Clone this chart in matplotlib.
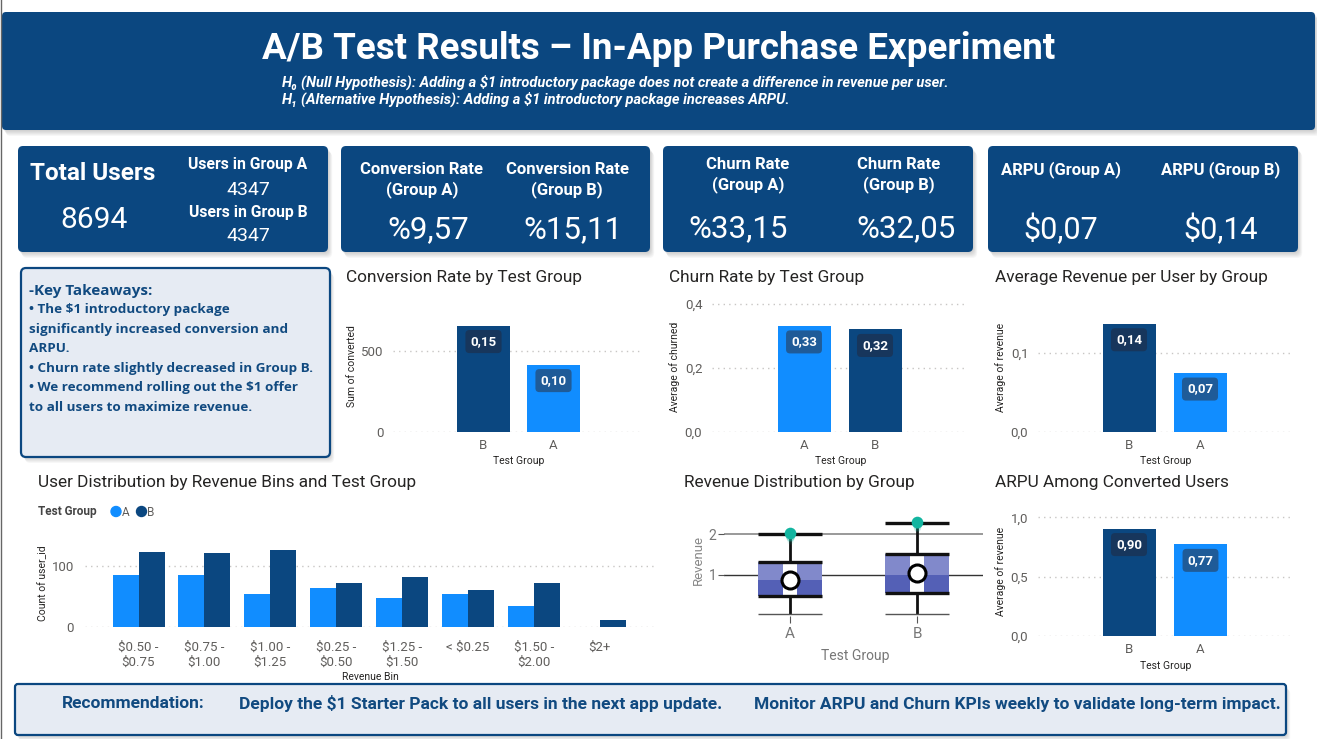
import numpy as np
import matplotlib
matplotlib.use('Agg')
import matplotlib.pyplot as plt
from matplotlib.patches import FancyBboxPatch, Circle
from matplotlib.transforms import IdentityTransform

# ---- data ----
total_users = 8694
users_per_group = [4347, 4347]          # A, B
conv_rate_pct = [9.57, 15.11]           # A, B
churn_rate_pct = [33.15, 32.05]         # A, B
arpu_group = [0.07, 0.14]               # A, B

conv_groups = ['B', 'A']
conv_sum = [657, 416]
conv_labels = ['0,15', '0,10']

churn_groups = ['A', 'B']
churn_avg = [0.3315, 0.3205]
churn_labels = ['0,33', '0,32']

arpu_groups = ['B', 'A']
arpu_avg = [0.137, 0.0746]
arpu_labels = ['0,14', '0,07']

bins = ['\\$0.50 -\n\\$0.75', '\\$0.75 -\n\\$1.00', '\\$1.00 -\n\\$1.25', '\\$0.25 -\n\\$0.50',
        '\\$1.25 -\n\\$1.50', '< \\$0.25', '\\$1.50 -\n\\$2.00', '\\$2+']
bin_count_a = [84, 84, 53, 64, 48, 54, 34, 0]
bin_count_b = [122, 120, 126, 71, 82, 60, 71, 11]

box_groups = ['A', 'B']
box_q1 = [0.48, 0.56]
box_med = [0.87, 1.00]
box_q3 = [1.31, 1.51]
box_mean = [0.89, 1.06]
box_lo = [0.04, 0.04]
box_hi = [2.00, 2.28]
box_out = [[2.02, 1.96, 1.90, 1.84], [2.30, 2.24, 2.18, 2.12]]

conv_arpu_groups = ['B', 'A']
conv_arpu = [0.905, 0.772]
conv_arpu_labels = ['0,90', '0,77']

takeaways = ['• The \\$1 introductory package', 'significantly increased conversion and', 'ARPU.',
             '• Churn rate slightly decreased in Group B.', '• We recommend rolling out the \\$1 offer',
             'to all users to maximize revenue.']

# ---- style ----
NAVY = '#0B4780'
LIGHT = '#118DFF'
DIN = ['Roboto', 'DejaVu Sans']
SEG = ['Open Sans', 'DejaVu Sans']
TITLE_C = '#252423'
TICK_C = '#605E5C'

W, H = 1317, 739
fig = plt.figure(figsize=(W / 100, H / 100), dpi=100)
fig.patch.set_facecolor('white')


def panel(x0, y0, x1, y1, fc, ec='none', lw=0, r=5, shadow=True):
    if shadow:
        for k in range(1, 7):
            s = FancyBboxPatch((x0 + k * 0.7, H - y1 - k), x1 - x0, y1 - y0,
                               boxstyle=f'round,pad=0,rounding_size={r}', transform=IdentityTransform(),
                               fc='black', ec='none', alpha=0.03)
            fig.add_artist(s)
    p = FancyBboxPatch((x0, H - y1), x1 - x0, y1 - y0, boxstyle=f'round,pad=0,rounding_size={r}',
                       transform=IdentityTransform(), fc=fc, ec=ec, lw=lw)
    fig.add_artist(p)


def txt(x, y, s, size, color='white', weight='normal', ha='center', va='center', family=DIN, **kw):
    fig.text(x / W, 1 - y / H, s, fontsize=size, color=color, fontweight=weight, ha=ha, va=va,
             family=family, **kw)


def fmt(v, nd=2):
    return f'{v:.{nd}f}'.replace('.', ',')


# left edge line
fig.add_artist(plt.Line2D([0.8, 0.8], [0, H], transform=IdentityTransform(), color='#666666', lw=1))

# ---- header ----
panel(2, 12, 1315, 130, NAVY, r=4)
txt(659, 49, 'A/B Test Results – In-App Purchase Experiment', 26.5, weight='bold')
txt(282, 82, 'H₀ (Null Hypothesis): Adding a \\$1 introductory package does not create a difference in revenue per user.',
    10.5, weight='bold', ha='left', style='italic')
txt(282, 99, 'H₁ (Alternative Hypothesis): Adding a \\$1 introductory package increases ARPU.',
    10.5, weight='bold', ha='left', style='italic')

# ---- KPI cards ----
panel(18, 146, 328, 252, NAVY)
txt(93, 173, 'Total Users', 17.5, weight='bold')
txt(94, 220, str(total_users), 21.5)
txt(248, 164, 'Users in Group A', 11.3, weight='bold')
txt(248, 190, str(users_per_group[0]), 14)
txt(248, 213, 'Users in Group B', 11.3, weight='bold')
txt(248, 236, str(users_per_group[1]), 14)

panel(341, 146, 650, 252, NAVY)
txt(422, 180, 'Conversion Rate\n(Group A)', 12, weight='bold', linespacing=1.3)
txt(567, 180, 'Conversion Rate\n(Group B)', 12, weight='bold', linespacing=1.3)
txt(428, 230, '%' + fmt(conv_rate_pct[0]), 22.5)
txt(573, 230, '%' + fmt(conv_rate_pct[1]), 22.5)

panel(663, 146, 973, 252, NAVY)
txt(748, 175, 'Churn Rate\n(Group A)', 12, weight='bold', linespacing=1.3)
txt(899, 175, 'Churn Rate\n(Group B)', 12, weight='bold', linespacing=1.3)
txt(738, 229, '%' + fmt(churn_rate_pct[0]), 22.5)
txt(906, 229, '%' + fmt(churn_rate_pct[1]), 22.5)

panel(988, 146, 1298, 252, NAVY)
txt(1061, 170, 'ARPU (Group A)', 12, weight='bold')
txt(1221, 170, 'ARPU (Group B)', 12, weight='bold')
txt(1061, 229, '\\$' + fmt(arpu_group[0]), 22)
txt(1221, 229, '\\$' + fmt(arpu_group[1]), 22)

# ---- key takeaways ----
panel(21, 268, 330, 457, '#E6EBF3', ec=NAVY, lw=1.6)
TK = '#114A80'
txt(29, 291, '-Key Takeaways:', 11, color=TK, weight='bold', ha='left', family=SEG)
for i, line in enumerate(takeaways):
    txt(29, 310 + i * 19.5, line, 9.7, color=TK, weight='bold', ha='left', family=SEG)

# ---- recommendation bar ----
panel(15, 684, 1286, 735, '#E6EBF3', ec=NAVY, lw=1.6, r=3)
txt(62, 704, 'Recommendation:', 12.5, color=TK, weight='bold', ha='left')
txt(239, 704, 'Deploy the \\$1 Starter Pack to all users in the next app update.', 12.5, color=TK,
    weight='bold', ha='left')
txt(754, 704, 'Monitor ARPU and Churn KPIs weekly to validate long-term impact.', 12.5, color=TK,
    weight='bold', ha='left')


# ---- small bar charts ----
def bar_panel(x0, x1, y0, ytop, ppu, c0, step, cats, vals, colors, labels, ticks, ticklabels,
              title, tx, ty, ylabel, ylx, yly, xlx, xly):
    ymax = (y0 - ytop) / ppu
    ax = fig.add_axes([x0 / W, 1 - y0 / H, (x1 - x0) / W, (y0 - ytop) / H])
    pos = np.arange(len(cats))
    ax.bar(pos, vals, width=53 / step, color=colors, zorder=2)
    ax.set_xlim((x0 - c0) / step, (x1 - c0) / step)
    ax.set_ylim(0, ymax)
    ax.set_yticks(ticks)
    ax.set_yticklabels(ticklabels, family=DIN, fontsize=9.5, color=TICK_C)
    ax.set_xticks(pos)
    ax.set_xticklabels(cats, family=DIN, fontsize=9.5, color=TICK_C)
    ax.tick_params(axis='y', length=0, pad=7)
    ax.tick_params(axis='x', length=0, pad=5)
    ax.grid(axis='y', color='#C8C6C4', lw=1, ls=(0, (1, 3)))
    ax.set_axisbelow(True)
    for s in ax.spines.values():
        s.set_visible(False)
    ax.patch.set_alpha(0)
    for p, v, c, lab in zip(pos, vals, colors, labels):
        bc = '#17365C' if c == NAVY else '#1F5B98'
        ax.annotate(lab, (p, v), xytext=(0, -16), textcoords='offset pixels', ha='center', va='center',
                    color='white', fontsize=9.5, fontweight='bold', family=DIN,
                    bbox=dict(boxstyle='round,pad=0.38,rounding_size=0.3', fc=bc, ec='none'))
    txt(tx, ty, title, 12.4, color=TITLE_C, ha='left')
    txt(ylx, yly, ylabel, 7.5, color=TITLE_C, rotation=90)
    txt(xlx, xly, 'Test Group', 7.5, color=TITLE_C)
    return ax


def col(groups):
    return [NAVY if g == 'B' else LIGHT for g in groups]


bar_panel(393, 642, 432, 300, 81 / 500, 483.5, 70, conv_groups, conv_sum, col(conv_groups), conv_labels,
          [0, 500], ['0', '500'], 'Conversion Rate by Test Group', 346, 277,
          'Sum of converted', 352, 366, 519, 461)
bar_panel(712, 966, 432, 300, 128 / 0.4, 804, 71, churn_groups, churn_avg, col(churn_groups), churn_labels,
          [0, 0.2, 0.4], ['0,0', '0,2', '0,4'], 'Churn Rate by Test Group', 669, 277,
          'Average of churned', 675, 367, 841, 461)
bar_panel(1038, 1290, 432, 300, 79 / 0.1, 1129, 71, arpu_groups, arpu_avg, col(arpu_groups), arpu_labels,
          [0, 0.1], ['0,0', '0,1'], 'Average Revenue per User by Group', 995, 277,
          'Average of revenue', 1001, 367, 1166, 461)
bar_panel(1038, 1290, 636, 505, 118.7, 1129, 71.5, conv_arpu_groups, conv_arpu, col(conv_arpu_groups),
          conv_arpu_labels, [0, 0.5, 1.0], ['0,0', '0,5', '1,0'], 'ARPU Among Converted Users', 995, 482,
          'Average of revenue', 1001, 571, 1166, 666)

# ---- user distribution by revenue bins ----
x0, x1, y0, ytop = 85, 654, 627, 525
ppu = 61.4 / 100
c0, step = 138.5, 65.9
axd = fig.add_axes([x0 / W, 1 - y0 / H, (x1 - x0) / W, (y0 - ytop) / H])
pos = np.arange(len(bins))
bw = 26 / step
axd.bar(pos - bw / 2, bin_count_a, width=bw, color=LIGHT, zorder=2)
axd.bar(pos + bw / 2, bin_count_b, width=bw, color=NAVY, zorder=2)
axd.set_xlim((x0 - c0) / step, (x1 - c0) / step)
axd.set_ylim(0, (y0 - ytop) / ppu)
axd.set_yticks([0, 100])
axd.set_yticklabels(['0', '100'], family=DIN, fontsize=9.5, color=TICK_C)
axd.set_xticks(pos)
axd.set_xticklabels(bins, family=DIN, fontsize=9.5, color=TICK_C, linespacing=1.2, va='top')
axd.tick_params(length=0, pad=8)
axd.tick_params(axis='x', pad=10)
axd.grid(axis='y', color='#C8C6C4', lw=1, ls=(0, (1, 3)))
axd.set_axisbelow(True)
for s in axd.spines.values():
    s.set_visible(False)
axd.patch.set_alpha(0)
txt(38, 482, 'User Distribution by Revenue Bins and Test Group', 12.4, color=TITLE_C, ha='left')
txt(38, 512, 'Test Group', 8.5, color='#444444', weight='bold', ha='left')
fig.add_artist(Circle((116, H - 511.5), 5, transform=IdentityTransform(), color=LIGHT))
txt(122, 512, 'A', 8.5, color=TICK_C, ha='left')
fig.add_artist(Circle((141.5, H - 511.5), 5, transform=IdentityTransform(), color=NAVY))
txt(147.5, 512, 'B', 8.5, color=TICK_C, ha='left')
txt(43, 583, 'Count of user_id', 7.5, color=TITLE_C, rotation=90)
txt(370, 677, 'Revenue Bin', 7.5, color=TITLE_C)

# ---- revenue distribution box plot ----
bx0, bx1, by0 = 724, 983, 616
bppu = 41
bymax = 2.7
bc0, bstep = 789.7, 127.6
axb = fig.add_axes([bx0 / W, 1 - by0 / H, (bx1 - bx0) / W, bymax * bppu / H])
axb.set_xlim((bx0 - bc0) / bstep, (bx1 - bc0) / bstep)
axb.set_ylim(0, bymax)
pos = np.arange(len(box_groups))
bw = 64 / bstep
axb.axhline(2, color='#999999', lw=1.4, zorder=0)
axb.axhline(1, color='#333333', lw=1, zorder=0)
axb.vlines(pos, box_lo, box_q1, color='#111111', lw=2, zorder=1)
axb.vlines(pos, box_q3, box_hi, color='#111111', lw=2, zorder=1)
axb.hlines(box_lo, pos - bw / 2, pos + bw / 2, color='#555555', lw=1, zorder=1)
axb.hlines(box_hi, pos - bw / 2, pos + bw / 2, color='#111111', lw=2.4, zorder=4)
axb.bar(pos, np.subtract(box_med, box_q1), bottom=box_q1, width=bw, color='#5460B6', zorder=2)
axb.bar(pos, np.subtract(box_q3, box_med), bottom=box_med, width=bw, color='#8189CB', zorder=2)
axb.bar(pos, np.subtract(box_q3, box_q1), bottom=box_q1, width=14 / bstep, color='white', zorder=3)
axb.hlines(box_q1, pos - bw / 2, pos + bw / 2, color='#111111', lw=2.4, zorder=4)
axb.hlines(box_q3, pos - bw / 2, pos + bw / 2, color='#111111', lw=2.4, zorder=4)
for p, outs in zip(pos, box_out):
    for j, v in enumerate(outs):
        axb.scatter([p], [v], s=[70, 45, 30, 20][j], color='#13B5A0', alpha=[1.0, 0.35, 0.2, 0.1][j],
                    lw=0, zorder=5)
axb.scatter(pos, box_mean, s=150, facecolor='white', edgecolor='black', lw=2.2, zorder=6)
axb.set_yticks([1, 2])
axb.set_yticklabels(['1', '2'], family=DIN, fontsize=10, color='#777777')
axb.set_xticks(pos)
axb.set_xticklabels(box_groups, family=DIN, fontsize=11, color='#777777')
axb.tick_params(axis='y', length=4, color='#555555', pad=1.5)
axb.tick_params(axis='x', length=5, color='#555555', pad=3)
for s in axb.spines.values():
    s.set_visible(False)
axb.patch.set_alpha(0)
txt(684, 482, 'Revenue Distribution by Group', 12.4, color=TITLE_C, ha='left')
txt(698, 560, 'Revenue', 9.5, color='#888888', rotation=90)
txt(855, 656, 'Test Group', 10, color='#777777')

fig.savefig('out.png', dpi=100, facecolor='white')
